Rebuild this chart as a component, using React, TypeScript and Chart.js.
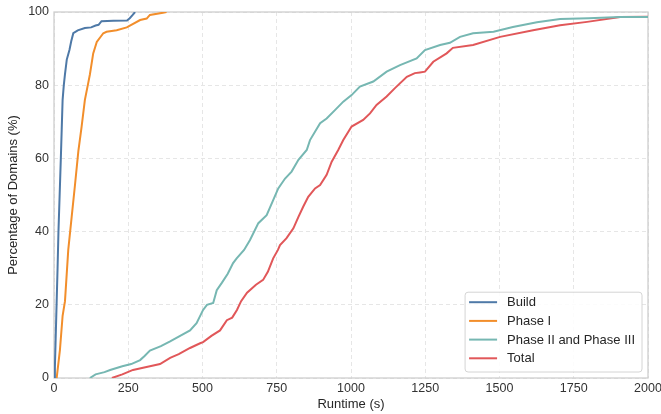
import React, { useEffect, useRef } from "react";
import { Chart, registerables } from "chart.js";

Chart.register(...registerables);

// ---------- data ----------
const buildX = [0, 3, 6, 9, 12, 15, 19, 23, 26, 29, 33, 37, 43, 52, 58, 65, 80, 104, 125, 140, 150, 160, 200, 246, 255, 265, 273];
const buildY = [0, 3, 12, 21, 30, 40, 50, 60, 68, 76, 80, 83, 87, 89.6, 92, 94.2, 95, 95.6, 95.8, 96.3, 96.5, 97.5, 97.6, 97.7, 98.3, 99.2, 100];

const phase1X = [9, 20, 29, 37, 48, 59.5, 71, 82, 93, 104, 115, 121, 132, 144, 166, 177, 211, 245, 290, 312, 323, 367, 379];
const phase1Y = [0, 7.7, 17, 21, 35, 44, 53, 62, 68.7, 76, 80.5, 83, 88.7, 91.8, 94.2, 94.6, 95, 95.8, 97.8, 98.2, 99.2, 99.8, 100];

const phase23X = [121, 140, 170, 189, 230, 260, 290, 305, 323, 360, 391, 420, 458, 480, 502, 515, 536, 548, 565, 585, 603, 615, 640, 660, 688, 716, 738, 755, 778, 800, 823, 851, 862, 896, 918, 946, 974, 1002, 1030, 1075, 1120, 1165, 1221, 1249, 1300, 1333, 1367, 1411, 1480, 1545, 1626, 1704, 1800, 1906, 2000];
const phase23Y = [0, 1, 1.6, 2.2, 3.2, 3.8, 4.9, 6, 7.5, 8.7, 10, 11.3, 13, 15, 18.6, 20, 20.5, 24, 26, 28.5, 31.4, 32.7, 35, 37.7, 42.3, 44.5, 48.6, 51.8, 54.5, 56.4, 59.6, 62.3, 65, 69.6, 70.9, 73.2, 75.5, 77.3, 79.6, 81, 83.7, 85.5, 87.3, 89.6, 91, 91.6, 93.2, 94.2, 94.6, 95.9, 97.2, 98.1, 98.3, 98.6, 98.6];

const totalX = [195, 230, 266, 300, 323, 357, 391, 420, 458, 492, 502, 530, 559, 582, 600, 616, 630, 650, 680, 704, 720, 738, 754, 761, 783, 806, 823, 839, 856, 879, 896, 918, 935, 957, 974, 1002, 1041, 1064, 1086, 1120, 1148, 1188, 1215, 1232, 1249, 1277, 1322, 1343, 1411, 1502, 1613, 1704, 1795, 1906, 2000];
const totalY = [0, 1, 2.2, 2.8, 3.2, 3.8, 5.5, 6.5, 8.2, 9.5, 9.8, 11.5, 13, 15.8, 16.5, 18.6, 21, 23.3, 25.5, 26.8, 29, 32.7, 35, 36.3, 38.2, 40.9, 44, 46.8, 49.5, 51.8, 52.7, 55.5, 59.1, 62.3, 65, 68.7, 70.5, 72.3, 74.6, 76.9, 79.2, 82.3, 83.3, 83.5, 83.7, 86.4, 88.7, 90.2, 91, 93.2, 95, 96.4, 97.3, 98.6, 98.7];

const seriesNames = ["Build", "Phase I", "Phase II and Phase III", "Total"];
const seriesColors = ["#4e79a7", "#f28e2b", "#76b7b2", "#e15759"];

const xMin = 0;
const xMax = 2000;
const xStep = 250;
const yMin = 0;
const yMax = 100;
const yStep = 20;

const xTitle = "Runtime (s)";
const yTitle = "Percentage of Domains (%)";

const FONT = "'Liberation Sans', Arial, Helvetica, sans-serif";

function toPoints(xs: number[], ys: number[]) {
  return xs.map((x, i) => ({ x, y: ys[i] }));
}

const framePlugin = {
  id: "frame",
  beforeDatasetsDraw(chart: any) {
    const { ctx, chartArea } = chart;
    ctx.save();
    ctx.strokeStyle = "#cccccc";
    ctx.lineWidth = 1.25;
    ctx.strokeRect(chartArea.left, chartArea.top, chartArea.right - chartArea.left, chartArea.bottom - chartArea.top);
    ctx.restore();
  },
};

const legendPlugin = {
  id: "boxLegend",
  afterDraw(chart: any) {
    const { ctx, chartArea } = chart;
    ctx.save();
    ctx.font = `13px ${FONT}`;
    const maxText = Math.max(...seriesNames.map((n) => ctx.measureText(n).width));
    const padL = 4;
    const lineLen = 28;
    const gap = 10;
    const padR = 7;
    const rowH = 18.7;
    const w = padL + lineLen + gap + maxText + padR;
    const h = rowH * seriesNames.length + 5;
    const right = chartArea.right - 6;
    const bottom = chartArea.bottom - 6;
    const x0 = right - w;
    const y0 = bottom - h;
    const r = 3;
    ctx.beginPath();
    ctx.moveTo(x0 + r, y0);
    ctx.lineTo(x0 + w - r, y0);
    ctx.arcTo(x0 + w, y0, x0 + w, y0 + r, r);
    ctx.lineTo(x0 + w, y0 + h - r);
    ctx.arcTo(x0 + w, y0 + h, x0 + w - r, y0 + h, r);
    ctx.lineTo(x0 + r, y0 + h);
    ctx.arcTo(x0, y0 + h, x0, y0 + h - r, r);
    ctx.lineTo(x0, y0 + r);
    ctx.arcTo(x0, y0, x0 + r, y0, r);
    ctx.closePath();
    ctx.fillStyle = "rgba(255,255,255,0.85)";
    ctx.fill();
    ctx.strokeStyle = "#d4d4d4";
    ctx.lineWidth = 1;
    ctx.stroke();
    seriesNames.forEach((name, i) => {
      const cy = y0 + 10 + i * rowH;
      ctx.beginPath();
      ctx.strokeStyle = seriesColors[i];
      ctx.lineWidth = 2;
      ctx.moveTo(x0 + padL, cy);
      ctx.lineTo(x0 + padL + lineLen, cy);
      ctx.stroke();
      ctx.fillStyle = "#262626";
      ctx.textBaseline = "middle";
      ctx.textAlign = "left";
      ctx.fillText(name, x0 + padL + lineLen + gap, cy + 0.5);
    });
    ctx.restore();
  },
};

export default function App() {
  const ref = useRef<HTMLCanvasElement>(null);

  useEffect(() => {
    document.body.style.margin = "0";
    Chart.defaults.font.family = FONT;
    const xs = [buildX, phase1X, phase23X, totalX];
    const ys = [buildY, phase1Y, phase23Y, totalY];
    const datasets = seriesNames.map((name, i) => ({
      label: name,
      data: toPoints(xs[i], ys[i]),
      borderColor: seriesColors[i],
      backgroundColor: seriesColors[i],
      borderWidth: 2,
      pointRadius: 0,
      tension: 0,
      fill: false,
    }));

    const chart = new Chart(ref.current as HTMLCanvasElement, {
      type: "line",
      data: { datasets },
      options: {
        responsive: false,
        animation: false,
        layout: { padding: { top: 12, right: 13, left: 0, bottom: 0 } },
        plugins: {
          legend: { display: false },
          tooltip: { enabled: false },
        },
        scales: {
          x: {
            type: "linear",
            min: xMin,
            max: xMax,
            border: { display: false, dash: [4, 3] },
            grid: { color: "#e6e6e6", lineWidth: 1, drawTicks: false },
            ticks: {
              stepSize: xStep,
              padding: 3,
              color: "#333333",
              font: { size: 12.5, family: FONT },
              maxRotation: 0,
              callback: (v: any) => String(v),
            },
            title: {
              display: true,
              text: xTitle,
              color: "#262626",
              font: { size: 13, family: FONT },
              padding: { top: 0, bottom: 1.5 },
            },
            afterFit: (s: any) => {
              s.height = 36;
              s.paddingLeft = 0;
              s.paddingRight = 0;
            },
          } as any,
          y: {
            type: "linear",
            min: yMin,
            max: yMax,
            border: { display: false, dash: [4, 3] },
            grid: { color: "#e6e6e6", lineWidth: 1, drawTicks: false },
            ticks: {
              stepSize: yStep,
              padding: 5,
              color: "#333333",
              font: { size: 12.5, family: FONT },
              callback: (v: any) => String(v),
            },
            title: {
              display: true,
              text: yTitle,
              color: "#262626",
              font: { size: 13, family: FONT },
              padding: { top: 5.5, bottom: 0 },
            },
            afterFit: (s: any) => {
              s.width = 54;
              s.paddingTop = 0;
              s.paddingBottom = 0;
            },
          } as any,
        },
      } as any,
      plugins: [framePlugin, legendPlugin],
    });
    return () => chart.destroy();
  }, []);

  return <canvas ref={ref} width={661} height={414} style={{ display: "block" }} />;
}
